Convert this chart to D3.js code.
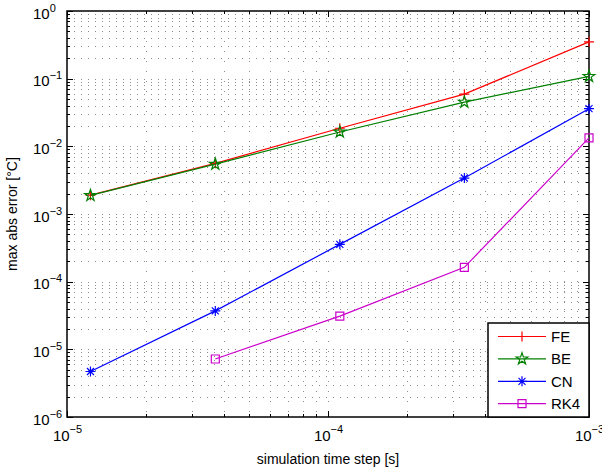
<!DOCTYPE html>
<html>
<head>
<meta charset="utf-8">
<script src="https://cdn.jsdelivr.net/npm/d3@7/dist/d3.min.js"></script>
<style>
  body { margin: 0; background: #fff; }
  svg { font-family: "Liberation Sans", Arial, Helvetica, sans-serif; }
</style>
</head>
<body>
<div id="chart"></div>
<script>
// time steps and max abs error per integration scheme
const steps = [1.23e-5, 3.7e-5, 1.11e-4, 3.33e-4, 1e-3];
const feErr = [1.9e-3, 5.6e-3, 1.85e-2, 5.9e-2, 0.35];
const beErr = [1.88e-3, 5.45e-3, 1.63e-2, 4.5e-2, 0.108];
const cnErr = [4.7e-6, 3.7e-5, 3.56e-4, 3.4e-3, 3.6e-2];
const rk4Err = [null, 7.2e-6, 3.1e-5, 1.63e-4, 1.33e-2];
const seriesNames = ['FE', 'BE', 'CN', 'RK4'];
const xMajor = [1e-5, 1e-4, 1e-3];
const yMajor = [1e-6, 1e-5, 1e-4, 1e-3, 1e-2, 1e-1, 1e0];

const colors = { FE: '#ff0000', BE: '#008000', CN: '#0000ff', RK4: '#cc00cc' };
const series = [
  { name: 'FE', values: feErr },
  { name: 'BE', values: beErr },
  { name: 'CN', values: cnErr },
  { name: 'RK4', values: rk4Err }
];

const W = 602, H = 470;
const margin = { top: 11, right: 13, bottom: 53, left: 67 };
const width = W - margin.left - margin.right;
const height = H - margin.top - margin.bottom;

const svg = d3.select('#chart').append('svg')
  .attr('width', W).attr('height', H);
const g = svg.append('g').attr('transform', `translate(${margin.left},${margin.top})`);

const x = d3.scaleLog().domain([1e-5, 1e-3]).range([0, width]);
const y = d3.scaleLog().domain([1e-6, 1e0]).range([height, 0]);

const xAll = x.ticks();
const yAll = y.ticks();

// dotted grid at every major and minor tick
const grid = g.append('g').attr('class', 'grid');
grid.selectAll('.gx').data(xAll.filter(v => v > 1e-5 && v < 1e-3)).enter()
  .append('line')
  .attr('x1', d => Math.round(x(d)) + 0.5).attr('x2', d => Math.round(x(d)) + 0.5)
  .attr('y1', 0).attr('y2', height)
  .attr('stroke-dasharray', '1,9');
grid.selectAll('.gy').data(yAll.filter(v => v > 1e-6 && v < 1)).enter()
  .append('line')
  .attr('y1', d => Math.round(y(d)) + 0.5).attr('y2', d => Math.round(y(d)) + 0.5)
  .attr('x1', 0).attr('x2', width)
  .attr('stroke-dasharray', '1,6');
grid.selectAll('line')
  .attr('stroke', '#000').attr('stroke-opacity', 0.45)
  .attr('stroke-width', 1);

// ticks pointing inward on all four sides
function tickLines(sel, vals, scale, orient) {
  sel.selectAll('line').data(vals).enter().append('line')
    .each(function (d) {
      const major = orient === 'x' ? xMajor.includes(d) : yMajor.includes(d);
      const len = major ? 6 : 3;
      const p = Math.round(scale(d)) + 0.5;
      const l = d3.select(this);
      if (orient === 'x') l.attr('x1', p).attr('x2', p);
      else l.attr('y1', p).attr('y2', p);
      l.attr('data-len', len);
    })
    .attr('stroke', '#000').attr('stroke-width', 1);
}
const tb = g.append('g'); tickLines(tb, xAll, x, 'x');
tb.selectAll('line').attr('y1', height).attr('y2', function () { return height - +this.getAttribute('data-len'); });
const tt = g.append('g'); tickLines(tt, xAll, x, 'x');
tt.selectAll('line').attr('y1', 0).attr('y2', function () { return +this.getAttribute('data-len'); });
const tl = g.append('g'); tickLines(tl, yAll, y, 'y');
tl.selectAll('line').attr('x1', 0).attr('x2', function () { return +this.getAttribute('data-len'); });
const tr = g.append('g'); tickLines(tr, yAll, y, 'y');
tr.selectAll('line').attr('x1', width).attr('x2', function () { return width - +this.getAttribute('data-len'); });

// axes frame
g.append('rect').attr('x', 0).attr('y', 0).attr('width', width).attr('height', height)
  .attr('fill', 'none').attr('stroke', '#000').attr('stroke-width', 1.5);

// tick labels as 10^n
const xAxis = g.append('g').attr('transform', `translate(0,${height})`)
  .call(d3.axisBottom(x).tickValues(xMajor).tickSize(0).tickFormat(() => ''));
xAxis.select('.domain').remove();
xAxis.selectAll('.tick text').each(function (d) {
  const t = d3.select(this).attr('y', 24).attr('dy', null)
    .attr('fill', '#000').attr('font-size', 15).attr('text-anchor', 'middle');
  t.append('tspan').text('10');
  t.append('tspan').attr('dy', -8).attr('font-size', 11)
    .text(String(Math.round(Math.log10(d))).replace('-', '\u2212'));
});

const yAxis = g.append('g')
  .call(d3.axisLeft(y).tickValues(yMajor).tickSize(0).tickFormat(() => ''));
yAxis.select('.domain').remove();
yAxis.selectAll('.tick text').each(function (d) {
  const t = d3.select(this).attr('x', -34).attr('dy', 7)
    .attr('fill', '#000').attr('font-size', 15).attr('text-anchor', 'start');
  t.append('tspan').text('10');
  t.append('tspan').attr('dy', -7).attr('font-size', 11)
    .text(String(Math.round(Math.log10(d))).replace('-', '\u2212'));
});

// axis titles
svg.append('text').attr('x', margin.left + width / 2).attr('y', 464)
  .attr('text-anchor', 'middle').attr('font-size', 14).text('simulation time step [s]');
svg.append('text').attr('transform', `translate(17,${margin.top + height / 2}) rotate(-90)`)
  .attr('text-anchor', 'middle').attr('font-size', 14).text('max abs error [\u00B0C]');

// markers
const markerPath = {
  FE: 'M-5,0H5M0,-5V5',
  BE: d3.symbol(d3.symbolStar, 42)(),
  CN: 'M-5,0H5M0,-5V5M-3.5,-3.5L3.5,3.5M-3.5,3.5L3.5,-3.5',
  RK4: 'M-4,-4H4V4H-4Z'
};

const line = d3.line()
  .defined(d => d.v != null)
  .x(d => x(d.s)).y(d => y(d.v));

series.forEach(s => {
  const pts = steps.map((st, i) => ({ s: st, v: s.values[i] })).filter(p => p.v != null);
  const sg = g.append('g');
  sg.append('path').datum(pts).attr('d', line)
    .attr('fill', 'none').attr('stroke', colors[s.name]).attr('stroke-width', 1.2);
  sg.selectAll('.m').data(pts).enter().append('path')
    .attr('transform', d => `translate(${x(d.s)},${y(d.v)})`)
    .attr('d', markerPath[s.name])
    .attr('fill', 'none').attr('stroke', colors[s.name]).attr('stroke-width', 1.2);
});

// legend in the lower right corner
const lg = g.append('g').attr('transform', `translate(${width - 101},${height - 94})`);
lg.append('rect').attr('width', 101).attr('height', 94)
  .attr('fill', '#fff').attr('stroke', '#000').attr('stroke-width', 1.5);
seriesNames.forEach((n, i) => {
  const ry = 13.5 + i * 22.4;
  lg.append('line').attr('x1', 10).attr('x2', 58).attr('y1', ry).attr('y2', ry)
    .attr('stroke', colors[n]).attr('stroke-width', 1.2);
  lg.append('path').attr('transform', `translate(34,${ry})`).attr('d', markerPath[n])
    .attr('fill', 'none').attr('stroke', colors[n]).attr('stroke-width', 1.2);
  lg.append('text').attr('x', 63).attr('y', ry + 5.5).attr('font-size', 15).text(n);
});
</script>
</body>
</html>
